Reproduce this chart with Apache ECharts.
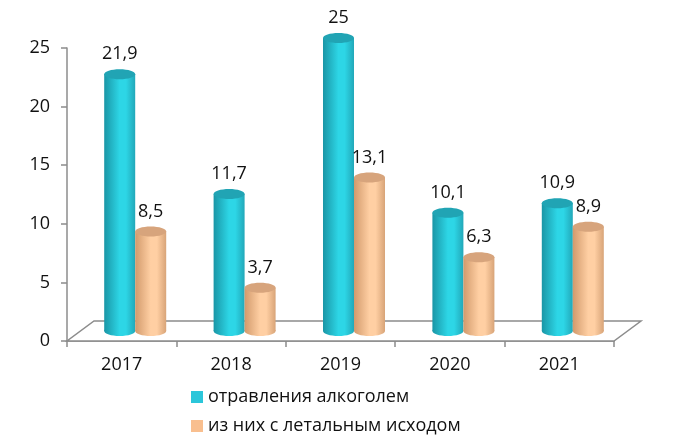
<!DOCTYPE html>
<html>
<head>
<meta charset="utf-8">
<script src="https://cdn.jsdelivr.net/npm/echarts@6/dist/echarts.min.js"></script>
<style>
  html, body { margin: 0; padding: 0; background: #fff; }
  #chart { width: 681px; height: 446px; }
</style>
</head>
<body>
<div id="chart"></div>
<script>
// data
const years = ["2017", "2018", "2019", "2020", "2021"];
const poisoning = [21.9, 11.7, 25, 10.1, 10.9];
const fatal = [8.5, 3.7, 13.1, 6.3, 8.9];
const seriesNames = ["отравления алкоголем", "из них с летальным исходом"];
const yTicks = [0, 5, 10, 15, 20, 25];

const FONT = "'Open Sans', 'Noto Sans', sans-serif";
const DX = 27, DY = 20;      // depth of the 3d floor
const BAR_W = 31;

const palettes = [
  { edge: "#1a96a6", mid: "#2dd6e6", right: "#22a8b9", top: "#21a4b4", legend: "#2bc6da" },
  { edge: "#d29a6c", mid: "#ffcfa3", right: "#d8a478", top: "#d7a47c", legend: "#f9bf8f" }
];

const chart = echarts.init(document.getElementById("chart"));

const fmt = v => String(v).replace(".", ",");

// cylinder for one bar
const cylinder = (idx) => (params, api) => {
  const p = palettes[idx];
  const top = api.coord([api.value(0), api.value(1)]);
  const base = api.coord([api.value(0), 0]);
  const cx = top[0] + DX / 2 + (idx === 0 ? -BAR_W / 2 : BAR_W / 2);
  const ty = top[1] - DY / 2;
  const by = base[1] - DY / 2;
  const ry = 5;
  const grad = new echarts.graphic.LinearGradient(0, 0, 1, 0, [
    { offset: 0, color: p.edge },
    { offset: 0.5, color: p.mid },
    { offset: 0.7, color: p.mid },
    { offset: 1, color: p.right }
  ]);
  return {
    type: "group",
    children: [
      { type: "ellipse", shape: { cx: cx, cy: by, rx: BAR_W / 2, ry: ry }, style: { fill: grad } },
      { type: "rect", shape: { x: cx - BAR_W / 2, y: ty, width: BAR_W, height: by - ty }, style: { fill: grad } },
      { type: "ellipse", shape: { cx: cx, cy: ty, rx: BAR_W / 2, ry: ry }, style: { fill: p.top } },
      {
        type: "text",
        style: {
          text: fmt(api.value(1)), x: cx, y: ty - 20,
          align: "center", verticalAlign: "middle",
          font: "18px " + FONT, fill: "#111"
        }
      }
    ]
  };
};

// floor of the 3d box
const floor = (params, api) => {
  const c = params.coordSys;
  const y0 = c.y + c.height;
  return {
    type: "polygon",
    silent: true,
    shape: { points: [[c.x, y0], [c.x + c.width, y0], [c.x + c.width + DX, y0 - DY], [c.x + DX, y0 - DY]] },
    style: { fill: "#fff", stroke: "#8c8c8c", lineWidth: 1.5 }
  };
};

const option = {
  animation: false,
  textStyle: { fontFamily: FONT },
  grid: { left: 67, right: 67, top: 48, bottom: 105 },
  legend: {
    orient: "vertical",
    left: 186, top: 383,
    itemWidth: 12, itemHeight: 12, itemGap: 11,
    icon: "rect",
    data: seriesNames,
    textStyle: { fontSize: 18, color: "#111", fontFamily: FONT }
  },
  xAxis: {
    type: "category",
    data: years,
    axisLine: { lineStyle: { color: "#8c8c8c", width: 1.5 } },
    axisTick: { show: true, length: 6, lineStyle: { color: "#8c8c8c", width: 1.5 } },
    axisLabel: { fontSize: 18, color: "#111", margin: 15 }
  },
  yAxis: {
    type: "value",
    min: 0, max: 25, interval: 5,
    axisLine: { show: true, lineStyle: { color: "#8c8c8c", width: 1.5 } },
    axisTick: { show: true, length: 6, lineStyle: { color: "#8c8c8c", width: 1.5 } },
    splitLine: { show: false },
    axisLabel: { fontSize: 18, color: "#111", margin: 17,
      formatter: v => yTicks.includes(v) ? String(v) : "" }
  },
  series: [
    { type: "custom", name: "floor", renderItem: floor, data: [[0, 0]], silent: true, z: 1 },
    { type: "custom", name: seriesNames[0], renderItem: cylinder(0),
      itemStyle: { color: palettes[0].legend },
      data: years.map((y, i) => [i, poisoning[i]]), z: 2 },
    { type: "custom", name: seriesNames[1], renderItem: cylinder(1),
      itemStyle: { color: palettes[1].legend },
      data: years.map((y, i) => [i, fatal[i]]), z: 3 }
  ]
};

chart.setOption(option);
</script>
</body>
</html>
